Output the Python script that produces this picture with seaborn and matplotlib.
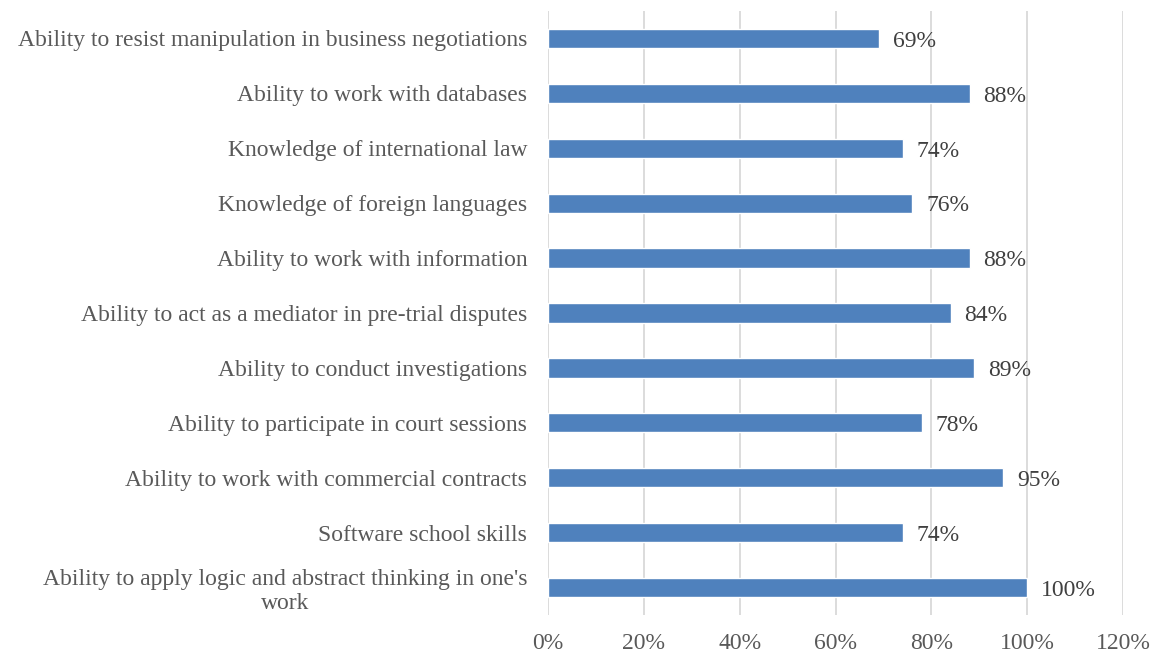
import matplotlib
matplotlib.use("Agg")
import matplotlib.pyplot as plt
import seaborn as sns
import pandas as pd
from matplotlib.ticker import FuncFormatter

categories = [
    "Ability to resist manipulation in business negotiations",
    "Ability to work with databases",
    "Knowledge of international law",
    "Knowledge of foreign languages",
    "Ability to work with information",
    "Ability to act as a mediator in pre-trial disputes",
    "Ability to conduct investigations",
    "Ability to participate in court sessions",
    "Ability to work with commercial contracts",
    "Software school skills",
    "Ability to apply logic and abstract thinking in one's\nwork",
]
values = [69, 88, 74, 76, 88, 84, 89, 78, 95, 74, 100]
x_ticks = [0, 20, 40, 60, 80, 100, 120]

sns.set_theme(style="white")
plt.rcParams["font.family"] = ["Liberation Serif", "DejaVu Serif"]

df = pd.DataFrame({"category": categories, "value": values})

fig = plt.figure(figsize=(11.54, 6.55), dpi=100)
ax = fig.add_axes([548 / 1154, 1 - 615 / 655, (1123 - 548) / 1154, (615 - 11) / 655])

sns.barplot(data=df, x="value", y="category", orient="h", color="#4F81BD",
            saturation=1, width=0.35, ax=ax, zorder=3)

ax.set_xlim(0, 120)
ax.set_xticks(x_ticks)
ax.xaxis.set_major_formatter(FuncFormatter(lambda v, p: f"{int(v)}%"))
ax.grid(axis="x", color="#D9D9D9", linewidth=1.3, zorder=0)
ax.grid(axis="y", visible=False)
for s in ax.spines.values():
    s.set_visible(False)
ax.set_xlabel("")
ax.set_ylabel("")
ax.tick_params(axis="both", length=0, colors="#595959", labelsize=17)
ax.tick_params(axis="y", pad=15)
ax.tick_params(axis="x", pad=13)
for lbl in ax.get_yticklabels():
    lbl.set_multialignment("center")
    lbl.set_linespacing(1.2)

for c in ax.containers:
    texts = ax.bar_label(c, labels=[f"{v}%" for v in values], padding=10,
                         fontsize=17, color="#404040")
    for t in texts:
        t.xyann = (10, -2)

fig.savefig("out.png", dpi=100)
